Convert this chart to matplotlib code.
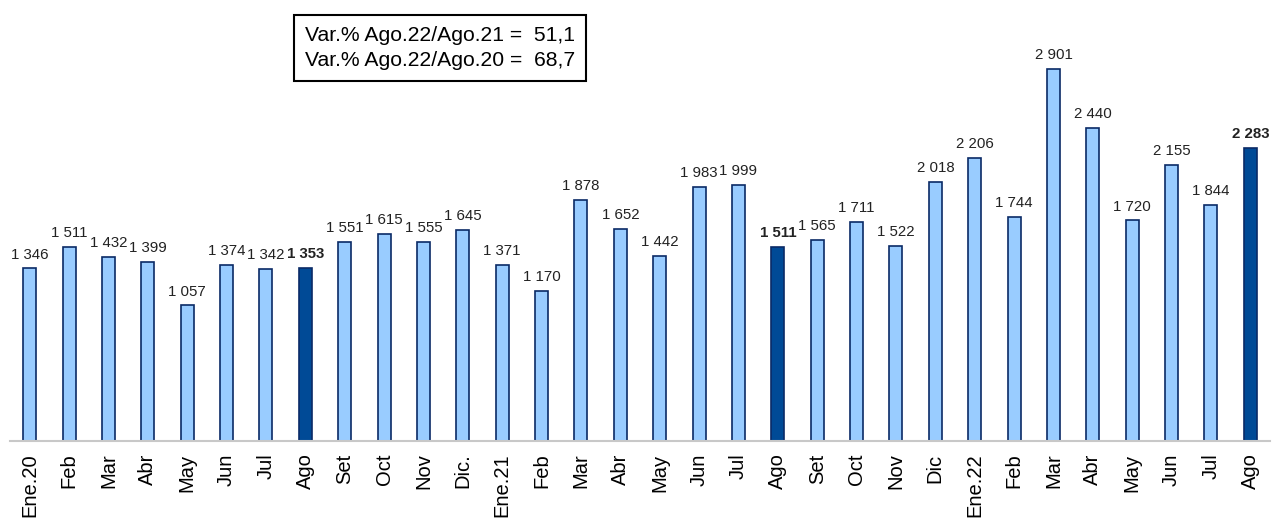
import matplotlib.pyplot as plt

plt.rcParams['font.family'] = ['Liberation Sans', 'DejaVu Sans']

meses = ['Ene.20', 'Feb', 'Mar', 'Abr', 'May', 'Jun', 'Jul', 'Ago', 'Set', 'Oct', 'Nov', 'Dic.',
         'Ene.21', 'Feb', 'Mar', 'Abr', 'May', 'Jun', 'Jul', 'Ago', 'Set', 'Oct', 'Nov', 'Dic',
         'Ene.22', 'Feb', 'Mar', 'Abr', 'May', 'Jun', 'Jul', 'Ago']
valores = [1346, 1511, 1432, 1399, 1057, 1374, 1342, 1353, 1551, 1615, 1555, 1645,
           1371, 1170, 1878, 1652, 1442, 1983, 1999, 1511, 1565, 1711, 1522, 2018,
           2206, 1744, 2901, 2440, 1720, 2155, 1844, 2283]
destacados = [7, 19, 31]
caja_texto = 'Var.% Ago.22/Ago.21 =  51,1\nVar.% Ago.22/Ago.20 =  68,7'

claro = '#99CCFF'
oscuro = '#004A96'
borde = '#0A2A66'

fig = plt.figure(figsize=(12.74, 5.23), dpi=100)
ax = fig.add_axes([10 / 1274, (523 - 441) / 523, 1260 / 1274, 441 / 523])

x = list(range(len(valores)))
colores = [oscuro if i in destacados else claro for i in x]
ax.bar(x, valores, width=0.33, color=colores, edgecolor=borde, linewidth=1.2, zorder=2)

for i, v in enumerate(valores):
    etiqueta = f'{v // 1000} {v % 1000:03d}'
    ax.annotate(etiqueta, (i, v), xytext=(0, 5), textcoords='offset points',
                ha='center', va='bottom', fontsize=10.8,
                fontweight='bold' if i in destacados else 'normal', color='#222222')

ax.set_xlim(-0.5, len(valores) - 0.5)
ax.set_ylim(0, 3440)
ax.set_xticks(x)
ax.set_xticklabels(meses, rotation=90, fontsize=14.5)
ax.tick_params(axis='x', length=0, pad=9)
ax.set_yticks([])
for s in ['top', 'right', 'left']:
    ax.spines[s].set_visible(False)
ax.spines['bottom'].set_color('#C8C8C8')
ax.spines['bottom'].set_linewidth(1.5)

fig.text(305 / 1274, 1 - 48 / 523, caja_texto, fontsize=15.2, va='center', ha='left',
         linespacing=1.4,
         bbox=dict(boxstyle='square,pad=0.5', facecolor='white', edgecolor='black', linewidth=1.5))

fig.savefig('out.png', dpi=100)
